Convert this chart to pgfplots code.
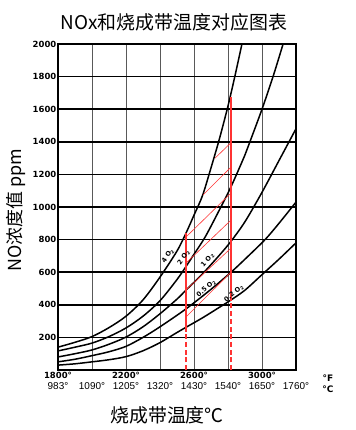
\documentclass[border=0pt]{standalone}
\usepackage{pgfplots}
\pgfplotsset{compat=1.18}
\usepackage{fontspec}
\setmainfont{Liberation Sans}
\newfontfamily\cjk{Noto Sans CJK SC}
\newfontfamily\dvs{DejaVu Sans}
\definecolor{myred}{RGB}{255,51,51}
\newcommand\fl[1]{{\dvs\bfseries\fontsize{8.5}{9}\selectfont #1}}
\begin{document}
\begin{tikzpicture}
\useasboundingbox (-58bp,-60bp) rectangle (298bp,370bp);
\begin{axis}[
  at={(0,0)}, anchor=south west,
  scale only axis, width=238bp, height=326bp,
  xmin=1800, xmax=3200, ymin=0, ymax=2000,
  xtick={1800,2000,...,3200},
  ytick={200,400,...,2000},
  xticklabels={{\fl{1800°}\\983°},{\fl{\phantom{0}}\\1090°},{\fl{2200°}\\1205°},{\fl{\phantom{0}}\\1320°},{\fl{2600°}\\1430°},{\fl{\phantom{0}}\\1540°},{\fl{3000°}\\1650°},{\fl{\phantom{0}}\\1760°}},
  /pgf/number format/1000 sep={},
  /pgf/number format/assume math mode=true,
  xmajorgrids, ymajorgrids,
  x grid style={line width=0.7bp, black!65},
  y grid style={line width=1.6bp, black},
  axis line style={line width=2bp},
  major tick length=0pt,
  yticklabel style={font=\dvs\bfseries\fontsize{8.5}{9}\selectfont, inner xsep=1.5bp},
  xticklabel style={align=center, font=\fontsize{10}{11}\selectfont, inner ysep=2bp},
  clip mode=individual,
]
% 4% O2
\addplot[black, line width=1.5bp, smooth, mark=none] coordinates {
(1800,140) (1900,170) (2000,205) (2100,260) (2200,330) (2300,430) (2400,570) (2500,730) (2553,840) (2600,950) (2650,1070) (2700,1240) (2750,1420) (2800,1620) (2840,1800) (2882,2000)};
% 2% O2
\addplot[black, line width=1.5bp, smooth, mark=none] coordinates {
(1800,117) (1900,140) (2000,165) (2100,205) (2200,258) (2300,330) (2400,425) (2500,555) (2553,635) (2600,710) (2665,815) (2741,965) (2818,1125) (2900,1320) (2929,1400) (3000,1600) (3065,1800) (3124,2000)};
% 1% O2
\addplot[black, line width=1.5bp, smooth, mark=none] coordinates {
(1800,80) (1900,100) (2000,123) (2100,158) (2200,202) (2300,265) (2400,345) (2500,435) (2553,490) (2650,590) (2750,705) (2818,790) (2900,910) (3000,1090) (3100,1285) (3200,1480)};
% 0.5% O2
\addplot[black, line width=1.5bp, smooth, mark=none] coordinates {
(1800,50) (1900,66) (2000,88) (2100,112) (2200,145) (2300,200) (2400,265) (2553,375) (2700,495) (2818,600) (2900,680) (3018,800) (3100,900) (3200,1030)};
% 0.2% O2
\addplot[black, line width=1.5bp, smooth, mark=none] coordinates {
(1800,30) (1900,38) (2000,50) (2100,63) (2200,82) (2300,118) (2400,168) (2500,230) (2553,262) (2650,320) (2750,385) (2818,430) (2900,490) (3000,585) (3100,680) (3200,780)};
% red verticals
\addplot[myred, line width=2.3bp, mark=none] coordinates {(2553,258) (2553,840)};
\addplot[myred, line width=2.3bp, mark=none, dash pattern=on 5bp off 2.7bp] coordinates {(2553,0) (2553,258)};
\addplot[myred, line width=2.3bp, mark=none] coordinates {(2818,430) (2818,1675)};
\addplot[myred, line width=2.3bp, mark=none, dash pattern=on 5bp off 2.7bp] coordinates {(2818,0) (2818,430)};
% red hatch
\addplot[myred, line width=0.6bp, mark=none] coordinates {(2724,1300) (2818,1395)};
\addplot[myred, line width=0.6bp, mark=none] coordinates {(2653,1074) (2818,1245)};
\addplot[myred, line width=0.6bp, mark=none] coordinates {(2553,816) (2818,1086)};
\addplot[myred, line width=0.6bp, mark=none] coordinates {(2553,656) (2818,920)};
\addplot[myred, line width=0.6bp, mark=none] coordinates {(2553,491) (2818,748)};
\addplot[myred, line width=0.6bp, mark=none] coordinates {(2553,325) (2818,601)};
% curve labels
\node[rotate=55, inner sep=0pt, font=\dvs\bfseries\fontsize{6.5}{7}\selectfont] at (axis cs:2447,700) {4 O\textsubscript{2}};
\node[rotate=55, inner sep=0pt, font=\dvs\bfseries\fontsize{6.5}{7}\selectfont] at (axis cs:2540,690) {2 O\textsubscript{2}};
\node[rotate=48, inner sep=0pt, font=\dvs\bfseries\fontsize{6.5}{7}\selectfont] at (axis cs:2680,675) {1 O\textsubscript{2}};
\node[rotate=42, inner sep=0pt, font=\dvs\bfseries\fontsize{6.5}{7}\selectfont] at (axis cs:2672,500) {0.5 O\textsubscript{2}};
\node[rotate=40, inner sep=0pt, font=\dvs\bfseries\fontsize{6.5}{7}\selectfont] at (axis cs:2835,470) {0.2 O\textsubscript{2}};
% titles and units
\node[font=\cjk\fontsize{19}{19}\selectfont] at (rel axis cs:0.5,1) [yshift=22bp, xshift=-3bp] {NOx和烧成带温度对应图表};
\node[xshift=-42bp, rotate=90, font=\cjk\fontsize{18}{18}\selectfont] at (rel axis cs:0,0.49) {NO浓度值 ppm};
\node[font=\cjk\fontsize{19}{19}\selectfont] at (rel axis cs:0.5,0) [yshift=-45bp, xshift=-10bp] {烧成带温度℃};
\node[font=\dvs\bfseries\fontsize{9}{9}\selectfont] at (rel axis cs:1,0) [xshift=32bp, yshift=-8bp] {°F};
\node[font=\dvs\bfseries\fontsize{9}{9}\selectfont] at (rel axis cs:1,0) [xshift=32bp, yshift=-19bp] {°C};
\end{axis}
\end{tikzpicture}
\end{document}
